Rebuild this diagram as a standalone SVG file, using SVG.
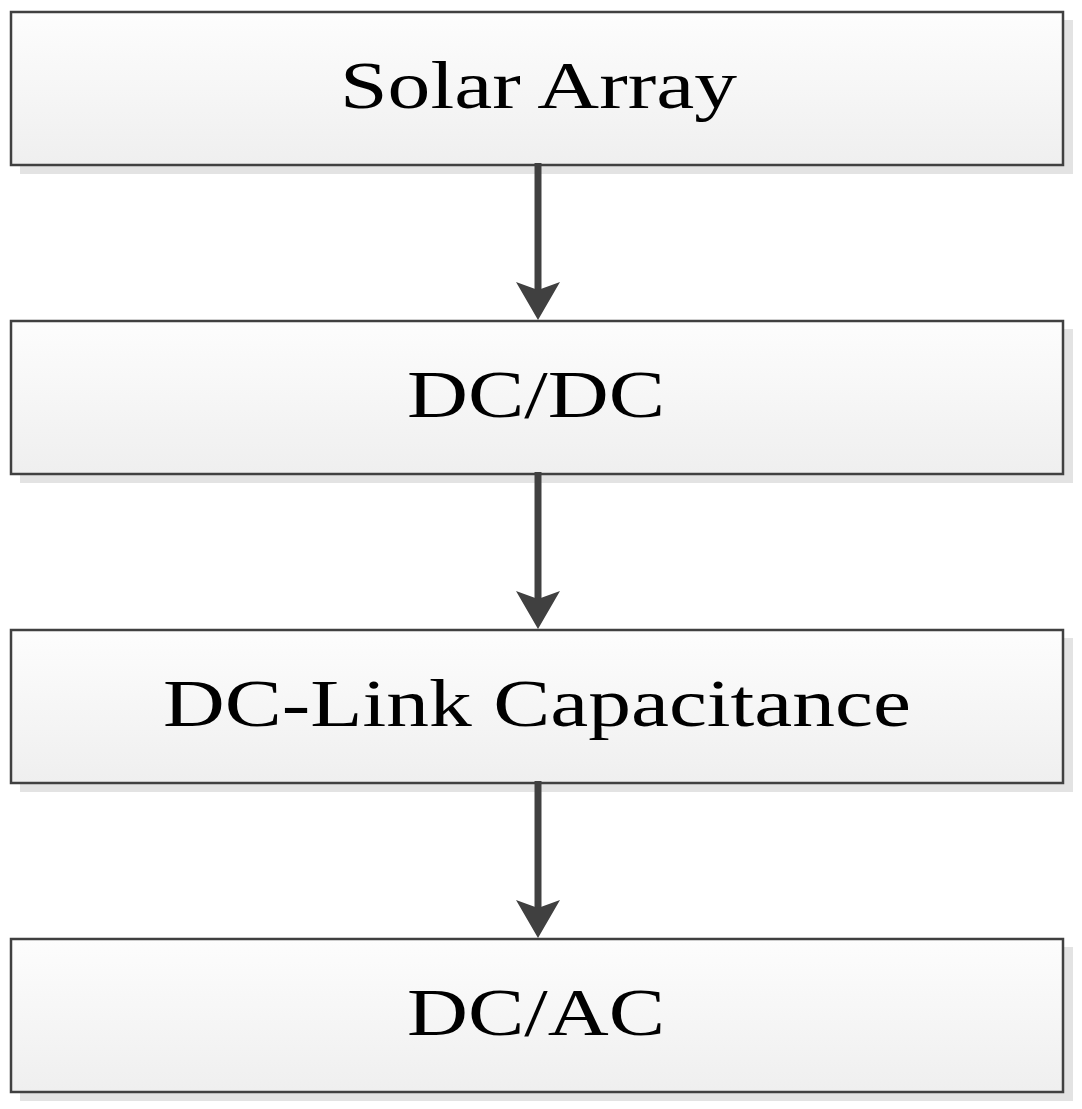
<svg xmlns="http://www.w3.org/2000/svg" width="1082" height="1109" viewBox="0 0 1082 1109">
<style>
.sh{fill:#e3e3e3}
.bx{fill:url(#g);stroke:#404040;stroke-width:2.5}
.t{font-family:"Liberation Serif",serif;font-size:68px;fill:#000;text-anchor:start}
.c{stroke:#404040;stroke-width:7;fill:none}
</style>
<defs>
<linearGradient id="g" x1="0" y1="0" x2="0" y2="1"><stop offset="0" stop-color="#fdfdfd"/><stop offset="1" stop-color="#efefef"/></linearGradient>
<marker id="a" viewBox="0 0 38 44" refX="8" refY="22" markerWidth="38" markerHeight="44" markerUnits="userSpaceOnUse" orient="auto"><path d="M0,0 L8,22 L0,44 L38,22 Z" fill="#404040"/></marker>
</defs>
<g id="n1"><rect class="sh" x="20" y="20" width="1053" height="154"/><rect class="bx" x="11" y="12" width="1052" height="153"/><text class="t" x="340" y="108" textLength="397" lengthAdjust="spacingAndGlyphs">Solar Array</text></g>
<g id="n2"><rect class="sh" x="20" y="329" width="1053" height="154"/><rect class="bx" x="11" y="321" width="1052" height="153"/><text class="t" x="407" y="417" textLength="258" lengthAdjust="spacingAndGlyphs">DC/DC</text></g>
<g id="n3"><rect class="sh" x="20" y="638" width="1053" height="154"/><rect class="bx" x="11" y="630" width="1052" height="153"/><text class="t" x="163" y="726" textLength="748" lengthAdjust="spacingAndGlyphs">DC-Link Capacitance</text></g>
<g id="n4"><rect class="sh" x="20" y="947" width="1053" height="154"/><rect class="bx" x="11" y="939" width="1052" height="153"/><text class="t" x="407" y="1035" textLength="258" lengthAdjust="spacingAndGlyphs">DC/AC</text></g>
<g id="connectors">
<line class="c" x1="538" y1="163" x2="538" y2="290" marker-end="url(#a)"/>
<line class="c" x1="538" y1="472" x2="538" y2="599" marker-end="url(#a)"/>
<line class="c" x1="538" y1="781" x2="538" y2="908" marker-end="url(#a)"/>
</g>
</svg>
